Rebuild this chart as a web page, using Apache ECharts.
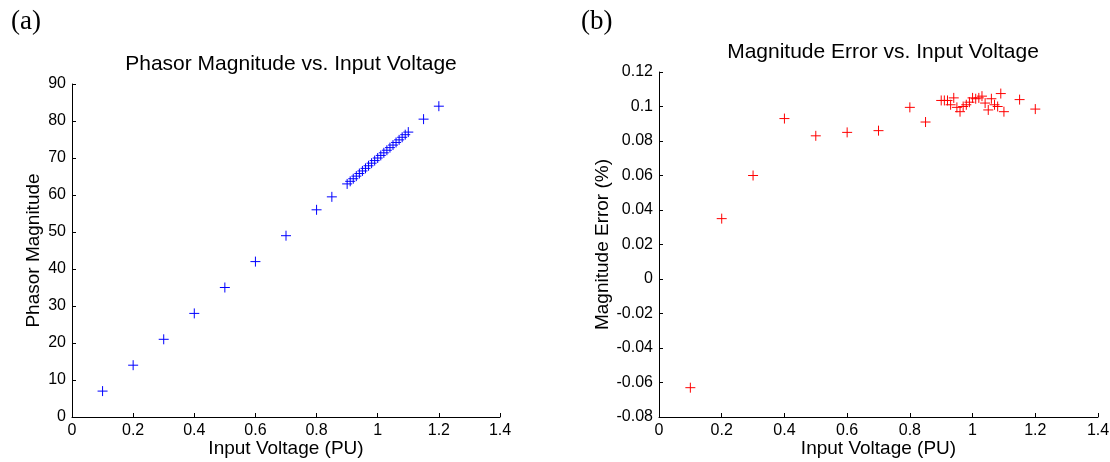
<!DOCTYPE html>
<html>
<head>
<meta charset="utf-8">
<script src="https://cdn.jsdelivr.net/npm/echarts@6/dist/echarts.min.js"></script>
<style>
html,body{margin:0;padding:0;background:#fff;}
#chart{width:1110px;height:462px;}
</style>
</head>
<body>
<div id="chart"></div>
<script>
// Input voltages (PU)
const voltages = [0.1,0.2,0.3,0.4,0.5,0.6,0.7,0.8,0.85,
  0.90,0.91,0.92,0.93,0.94,0.95,0.96,0.97,0.98,0.99,1.00,
  1.01,1.02,1.03,1.04,1.05,1.06,1.07,1.08,1.09,1.10,1.15,1.20];
// Phasor magnitude (panel a)
const magnitudes = [7,14,21,28,35,42,49,56,59.5,
  63,63.7,64.4,65.1,65.8,66.5,67.2,67.9,68.6,69.3,70,
  70.7,71.4,72.1,72.8,73.5,74.2,74.9,75.6,76.3,77,80.5,84];
// Magnitude error in % (panel b)
const errors = [-0.063,0.035,0.060,0.093,0.083,0.085,0.086,0.0995,0.091,
  0.1035,0.1035,0.1035,0.1010,0.1050,0.0995,0.0970,0.1000,0.1010,0.1025,0.1050,
  0.1045,0.1050,0.1060,0.1020,0.0980,0.1045,0.1010,0.1000,0.1075,0.0970,0.1040,0.0985];

const titles = ['Phasor Magnitude vs. Input Voltage','Magnitude Error vs. Input Voltage'];
const xName = 'Input Voltage (PU)';
const yNames = ['Phasor Magnitude','Magnitude Error (%)'];
const panelLabels = ['(a)','(b)'];

const FONT = '"Liberation Sans", Arial, sans-serif';
const SERIF = '"Liberation Serif", "Times New Roman", serif';
const plus = 'path://M0,5H10M5,0V10';
const fmt = v => String(+v.toFixed(2));

function xAxisCfg(gi){
  return {
    gridIndex: gi, type:'value', min:0, max:1.4, interval:0.2,
    name: xName, nameLocation:'middle', nameGap:22, nameMoveOverlap:false,
    nameTextStyle:{fontFamily:FONT,fontSize:19,color:'#000'},
    axisLine:{onZero:false,lineStyle:{color:'#000',width:1}},
    axisTick:{inside:true,length:4,lineStyle:{color:'#000'}},
    axisLabel:{fontFamily:FONT,fontSize:16,color:'#000',margin:6,formatter:fmt},
    splitLine:{show:false}
  };
}
function yAxisCfg(gi,min,max,interval,gap){
  return {
    gridIndex:gi,type:'value',min:min,max:max,interval:interval,
    name:yNames[gi],nameLocation:'middle',nameGap:gap,
    nameTextStyle:{fontFamily:FONT,fontSize:19,color:'#000'},
    axisLine:{show:true,onZero:false,lineStyle:{color:'#000',width:1}},
    axisTick:{show:true,inside:true,length:4,lineStyle:{color:'#000'}},
    axisLabel:{fontFamily:FONT,fontSize:16,color:'#000',margin:6,formatter:fmt},
    splitLine:{show:false}
  };
}

const chart = echarts.init(document.getElementById('chart'), null, {renderer:'canvas'});
chart.setOption({
  backgroundColor:'#fff',
  animation:false,
  title:[
    {text:titles[0],left:286,top:49,textAlign:'center',textStyle:{fontFamily:FONT,fontSize:21,fontWeight:'normal',color:'#000'}},
    {text:titles[1],left:878,top:37,textAlign:'center',textStyle:{fontFamily:FONT,fontSize:21,fontWeight:'normal',color:'#000'}},
    {text:panelLabels[0],left:6,top:3,textStyle:{fontFamily:SERIF,fontSize:27,fontWeight:'normal',color:'#000'}},
    {text:panelLabels[1],left:576,top:3,textStyle:{fontFamily:SERIF,fontSize:27,fontWeight:'normal',color:'#000'}}
  ],
  grid:[
    {left:72,top:84,width:428,height:333,containLabel:false,outerBoundsMode:'none'},
    {left:659,top:72,width:439,height:345,containLabel:false,outerBoundsMode:'none'}
  ],
  xAxis:[xAxisCfg(0),xAxisCfg(1)],
  yAxis:[yAxisCfg(0,0,90,10,29), yAxisCfg(1,-0.08,0.12,0.02,46)],
  series:[
    {type:'scatter',xAxisIndex:0,yAxisIndex:0,symbol:plus,symbolSize:10,
      itemStyle:{color:'none',borderColor:'#0000ff',borderWidth:1,opacity:1},
      data:voltages.map((v,i)=>[v,magnitudes[i]])},
    {type:'scatter',xAxisIndex:1,yAxisIndex:1,symbol:plus,symbolSize:10,
      itemStyle:{color:'none',borderColor:'#ff0000',borderWidth:1,opacity:1},
      data:voltages.map((v,i)=>[v,errors[i]])}
  ]
});
</script>
</body>
</html>
